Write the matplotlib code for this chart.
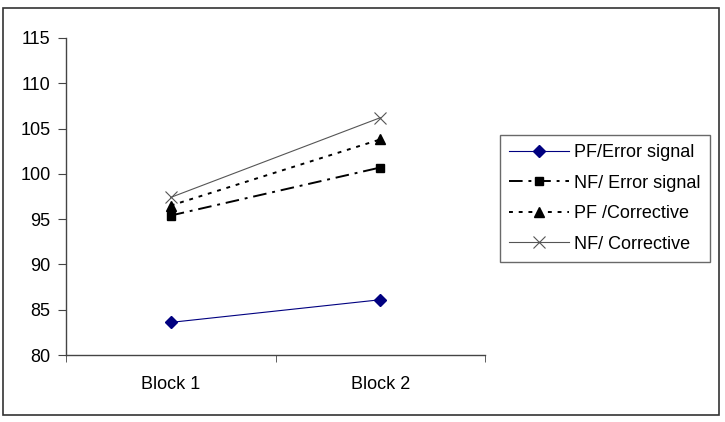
import matplotlib
matplotlib.use("Agg")
import matplotlib.pyplot as plt
from matplotlib.patches import Rectangle

categories = ["Block 1", "Block 2"]
pf_error = [83.6, 86.1]
nf_error = [95.4, 100.7]
pf_corrective = [96.5, 103.8]
nf_corrective = [97.4, 106.2]
yticks = [80, 85, 90, 95, 100, 105, 110, 115]

plt.rcParams["font.family"] = ["Liberation Sans", "DejaVu Sans"]
plt.rcParams["font.size"] = 13

W, H = 725, 422
fig = plt.figure(figsize=(W / 100, H / 100), dpi=100)
ax = fig.add_axes([66 / W, (H - 355) / H, (485 - 66) / W, (355 - 38) / H])

x = list(range(len(categories)))
ax.plot(x, pf_error, color="#000080", lw=0.8, marker="D", ms=6,
        label="PF/Error signal")
ax.plot(x, nf_error, color="black", lw=1.4, ls=(0, (7, 3, 1.5, 3)),
        marker="s", ms=6, label="NF/ Error signal")
ax.plot(x, pf_corrective, color="black", lw=1.4, ls=(0, (2, 3)),
        marker="^", ms=7, label="PF /Corrective")
ax.plot(x, nf_corrective, color="#555555", lw=0.8, marker="x", ms=9,
        mew=0.8, label="NF/ Corrective")

ax.set_xlim(-0.5, len(categories) - 0.5)
ax.set_ylim(80, 115)
ax.set_yticks(yticks)
ax.set_xticks(x)
ax.set_xticklabels(categories)
ax.tick_params(axis="x", length=0, pad=15)
ax.set_xticks([i - 0.5 for i in range(len(categories) + 1)], minor=True)
ax.tick_params(axis="x", which="minor", direction="out", length=5, color="#444444")
ax.tick_params(axis="y", direction="out", length=6, color="#444444", pad=5)

for side in ["top", "right"]:
    ax.spines[side].set_visible(False)
for side in ["left", "bottom"]:
    ax.spines[side].set_color("#444444")
    ax.spines[side].set_linewidth(1)

leg = fig.legend(loc="upper left", bbox_to_anchor=(500 / W, 1 - 135 / H),
                 frameon=True, fancybox=False, edgecolor="#444444",
                 handlelength=3.3, borderpad=0.5, labelspacing=0.75,
                 handletextpad=0.3, borderaxespad=0)
leg.get_frame().set_linewidth(1)

fig.patches.append(Rectangle((3 / W, 1 - 415 / H), (719 - 3) / W, (415 - 8) / H,
                             transform=fig.transFigure, fill=False,
                             edgecolor="#333333", lw=1.2))

fig.savefig("out.png", dpi=100)
